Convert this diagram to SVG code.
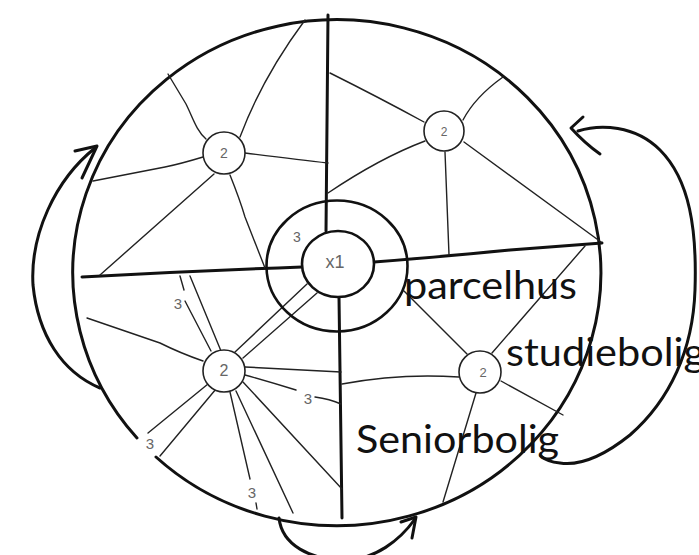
<svg xmlns="http://www.w3.org/2000/svg" width="699" height="555" viewBox="0 0 699 555">
<style>
.thick{fill:none;stroke:#111;stroke-width:3;stroke-linecap:round;stroke-linejoin:round}
.ring{fill:none;stroke:#111;stroke-width:2.6}
.thin{fill:none;stroke:#222;stroke-width:1.4;stroke-linecap:round;stroke-linejoin:round}
.node{fill:#fff;stroke:#222;stroke-width:1.6}
.num{font-family:"Liberation Sans",Arial,sans-serif;fill:#666;text-anchor:middle}
.lbl{font-family:Lato,"Open Sans",sans-serif;font-size:38px;fill:#111}
</style>
<rect width="699" height="555" fill="#fff"/>
<g id="outline">
<path class="thick" d="M 156 457 A 264 253 0 1 0 137 438"/>
</g>
<g id="connectors">
<!-- dividers -->
<path class="thick" d="M 82 277 Q 190 271 302 267"/>
<path class="thick" d="M 374 262 Q 450 256 510 250 L 602 243"/>
<path class="thick" d="M 328 15 L 326 231"/>
<path class="thick" d="M 339 297 L 342 518"/>
<!-- top-left node -->
<path class="thin" d="M 206 139 C 196 130 193 118 186 104 L 168 74"/>
<path class="thin" d="M 240 137 Q 262 78 305 20"/>
<path class="thin" d="M 203 157 Q 180 164 165 167 L 93 181"/>
<path class="thin" d="M 245 153 Q 300 160 328 163"/>
<path class="thin" d="M 214 174 L 100 275"/>
<path class="thin" d="M 230 175 Q 240 200 245 217 L 265 268"/>
<!-- top-right node -->
<path class="thin" d="M 424 122 Q 380 98 330 73"/>
<path class="thin" d="M 463 120 Q 475 97 503 77"/>
<path class="thin" d="M 425 141 Q 380 158 328 193"/>
<path class="thin" d="M 445 152 L 449 255"/>
<path class="thin" d="M 464 142 L 601 242"/>
<!-- bottom-right node -->
<path class="thin" d="M 467 354 L 404 291"/>
<path class="thin" d="M 492 353 L 585 246"/>
<path class="thin" d="M 342 384 Q 400 373 459 377"/>
<path class="thin" d="M 501 381 L 563 415"/>
<path class="thin" d="M 476 393 L 443 502"/>
<!-- bottom-left node -->
<path class="thin" d="M 203 361 Q 180 353 160 343 L 87 318"/>
<path class="thin" d="M 235 352 L 307 284"/>
<path class="thin" d="M 243 358 L 317 293"/>
<path class="thin" d="M 180 276 L 184 290"/>
<path class="thin" d="M 185 301 L 211 351"/>
<path class="thin" d="M 190 276 L 221 351"/>
<path class="thin" d="M 245 367 L 341 372"/>
<path class="thin" d="M 245 375 Q 270 382 296 390"/>
<path class="thin" d="M 315 397 Q 330 399 341 404"/>
<path class="thin" d="M 243 382 L 342 489"/>
<path class="thin" d="M 236 391 L 293 513"/>
<path class="thin" d="M 230 392 L 250 479"/>
<path class="thin" d="M 256 503 L 257 509"/>
<path class="thin" d="M 208 384 L 148 433"/>
<path class="thin" d="M 216 389 L 160 456"/>
<!-- arrows -->
<path class="thick" d="M 100 388 C 62 372 38 335 33 285 C 30 235 55 180 95 148"/>
<path class="thick" d="M 75 151 L 97 146 L 82 178"/>
<path class="thick" d="M 578 131 C 600 124 635 125 660 150 C 690 180 697 230 695 290 C 693 350 670 400 630 435 C 605 455 580 466 560 463 C 550 462 544 459 541 456"/>
<path class="thick" d="M 583 117 L 571 128 C 580 138 590 147 600 154"/>
<path class="thick" d="M 279 518 C 282 545 310 560 345 560 C 375 560 400 540 415 519"/>
<path class="thick" d="M 401 522 L 416 517 L 412 538"/>
</g>
<g id="center">
<ellipse class="ring" cx="337" cy="266" rx="70.5" ry="65.5"/>
<ellipse cx="338" cy="264" rx="36" ry="33" fill="#fff" stroke="#111" stroke-width="2.6"/>
<text class="num" x="335" y="268" font-size="18">x1</text>
<text class="num" x="297" y="242" font-size="14">3</text>
</g>
<g id="node-tl">
<circle class="node" cx="224" cy="153" r="21"/>
<text class="num" x="224" y="158" font-size="14">2</text>
</g>
<g id="node-tr">
<circle class="node" cx="444" cy="131" r="20"/>
<text class="num" x="444" y="136" font-size="12">2</text>
</g>
<g id="node-br">
<circle class="node" cx="480" cy="372" r="21"/>
<text class="num" x="483" y="377" font-size="13">2</text>
</g>
<g id="node-bl">
<circle class="node" cx="224" cy="371" r="21"/>
<text class="num" x="224" y="376" font-size="16">2</text>
</g>
<g id="labels-3">
<text class="num" x="178" y="309" font-size="15">3</text>
<text class="num" x="308" y="404" font-size="15">3</text>
<text class="num" x="252" y="498" font-size="15">3</text>
<text class="num" x="150" y="449" font-size="15">3</text>
</g>
<g id="labels">
<text class="lbl" x="404" y="299" textLength="173" lengthAdjust="spacingAndGlyphs">parcelhus</text>
<text class="lbl" x="506" y="366" textLength="199" lengthAdjust="spacingAndGlyphs">studiebolig</text>
<text class="lbl" x="356" y="453" textLength="203" lengthAdjust="spacingAndGlyphs">Seniorbolig</text>
</g>
</svg>
